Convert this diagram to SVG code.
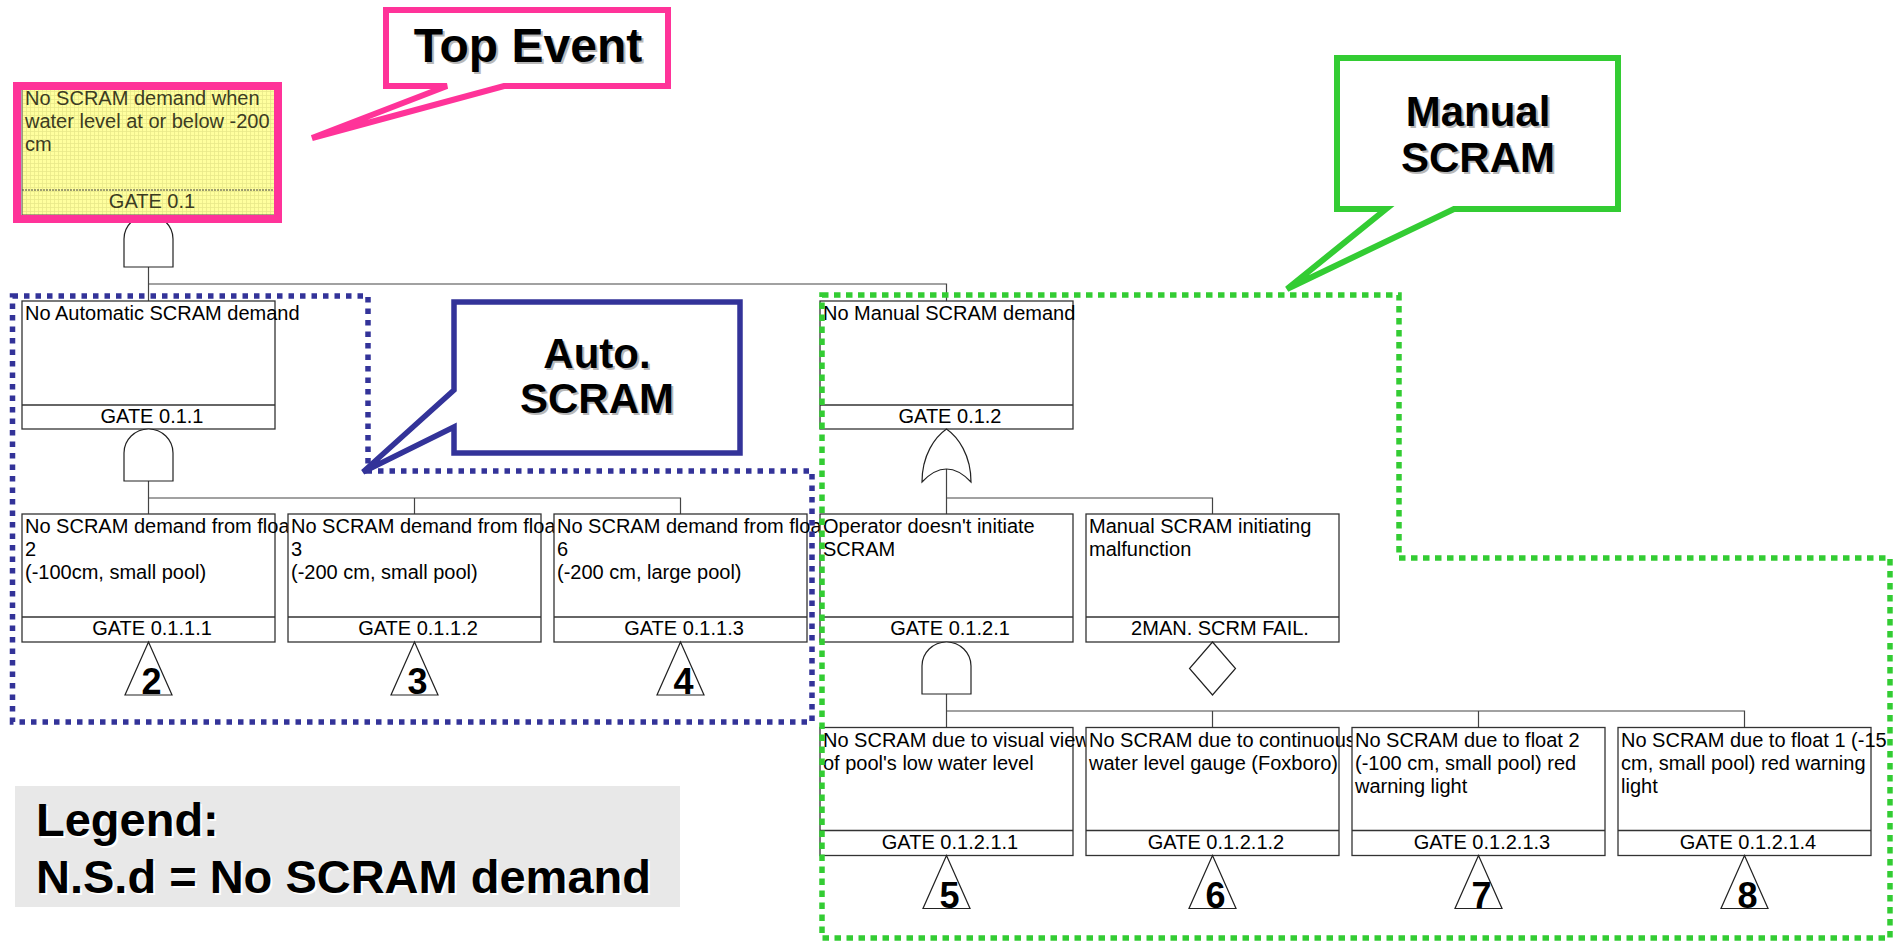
<svg xmlns="http://www.w3.org/2000/svg" width="1903" height="942" viewBox="0 0 1903 942">
  <style>
    .box{fill:#fff;stroke:#333;stroke-width:1.3}
    .div{stroke:#333;stroke-width:1.3}
    .t{font-family:"Liberation Sans",Arial,sans-serif;font-size:20px;fill:#000}
    .g{font-family:"Liberation Sans",Arial,sans-serif;font-size:20px;fill:#000;text-anchor:middle}
    .num{font-family:"Liberation Sans",Arial,sans-serif;font-size:36px;font-weight:bold;fill:#000;text-anchor:middle}
    .sym{fill:#fff;stroke:#222;stroke-width:1.2}
    .wire{fill:none;stroke:#444;stroke-width:1.2}
    .big{font-family:"Liberation Sans",Arial,sans-serif;font-weight:bold;text-anchor:middle}
    .shadow{fill:#b8b8b8}
    .zone{fill:none;stroke-width:5.5}
    .olive{fill:#3c3c22}
  </style>
  <defs>
    <pattern id="yellowGrid" width="4" height="4" patternUnits="userSpaceOnUse">
      <rect width="4" height="4" fill="#ffff9e"/>
      <path d="M0,0.5H4M0.5,0V4" stroke="#e9e98a" stroke-width="0.8"/>
    </pattern>
  </defs>

  <!-- tree connectors -->
  <g id="connectors" class="wire">
    <path d="M148.5,267V284H946.5V301M148.5,284V301"/>
    <path d="M148.5,481V498H680.5V514M414.5,498V514M148.5,498V514"/>
    <path d="M946.5,468V498H1212.5V514M946.5,498V514"/>
    <path d="M946.5,694V711H1744.5V727M1212.5,711V727M1478.5,711V727M946.5,711V727"/>
  </g>

  <!-- top event -->
  <g id="gate-0-1" transform="translate(22,87)">
    <path class="sym" d="M102,180V152A24.5,24 0 0 1 151,152V180Z"/>
    <rect width="253" height="128" fill="url(#yellowGrid)" stroke="#555" stroke-width="1"/>
    <line x1="0" y1="103" x2="253" y2="103" stroke="#444" stroke-width="1.2" stroke-dasharray="2 1"/>
    <text class="t olive" x="3" y="18">No SCRAM demand when</text>
    <text class="t olive" x="3" y="41">water level at or below -200</text>
    <text class="t olive" x="3" y="64">cm</text>
    <text class="g olive" x="130" y="121">GATE 0.1</text>
    <rect x="-5" y="-1" width="261" height="133" fill="none" stroke="#ff3399" stroke-width="8"/>
  </g>

  <!-- level 2 -->
  <g id="gate-0-1-1" transform="translate(22,301)">
    <rect class="box" width="253" height="128"/>
    <line class="div" x1="0" y1="104" x2="253" y2="104"/>
    <text class="t" x="3" y="19">No Automatic SCRAM demand</text>
    <text class="g" x="130" y="122">GATE 0.1.1</text>
    <path class="sym" d="M102,180V152A24.5,24 0 0 1 151,152V180Z"/>
  </g>
  <g id="gate-0-1-2" transform="translate(820,301)">
    <rect class="box" width="253" height="128"/>
    <line class="div" x1="0" y1="104" x2="253" y2="104"/>
    <text class="t" x="3" y="19">No Manual SCRAM demand</text>
    <text class="g" x="130" y="122">GATE 0.1.2</text>
    <path class="sym" d="M102,181C102,154 115,136 126.5,128C138,136 151,154 151,181Q126.5,155 102,181Z"/>
  </g>

  <!-- level 3 (each box covers the overflow of its left neighbour) -->
  <g id="gate-0-1-1-1" transform="translate(22,514)">
    <rect class="box" width="253" height="128"/>
    <line class="div" x1="0" y1="103" x2="253" y2="103"/>
    <text class="t" x="3" y="19">No SCRAM demand from float</text>
    <text class="t" x="3" y="42">2</text>
    <text class="t" x="3" y="65">(-100cm, small pool)</text>
    <text class="g" x="130" y="121">GATE 0.1.1.1</text>
    <path class="sym" d="M126.5,128L150,181H103Z"/>
    <text class="num" x="129.5" y="180">2</text>
  </g>
  <g id="gate-0-1-1-2" transform="translate(288,514)">
    <rect class="box" width="253" height="128"/>
    <line class="div" x1="0" y1="103" x2="253" y2="103"/>
    <text class="t" x="3" y="19">No SCRAM demand from float</text>
    <text class="t" x="3" y="42">3</text>
    <text class="t" x="3" y="65">(-200 cm, small pool)</text>
    <text class="g" x="130" y="121">GATE 0.1.1.2</text>
    <path class="sym" d="M126.5,128L150,181H103Z"/>
    <text class="num" x="129.5" y="180">3</text>
  </g>
  <g id="gate-0-1-1-3" transform="translate(554,514)">
    <rect class="box" width="253" height="128"/>
    <line class="div" x1="0" y1="103" x2="253" y2="103"/>
    <text class="t" x="3" y="19">No SCRAM demand from float</text>
    <text class="t" x="3" y="42">6</text>
    <text class="t" x="3" y="65">(-200 cm, large pool)</text>
    <text class="g" x="130" y="121">GATE 0.1.1.3</text>
    <path class="sym" d="M126.5,128L150,181H103Z"/>
    <text class="num" x="129.5" y="180">4</text>
  </g>
  <g id="gate-0-1-2-1" transform="translate(820,514)">
    <rect class="box" width="253" height="128"/>
    <line class="div" x1="0" y1="103" x2="253" y2="103"/>
    <text class="t" x="3" y="19">Operator doesn't initiate</text>
    <text class="t" x="3" y="42">SCRAM</text>
    <text class="g" x="130" y="121">GATE 0.1.2.1</text>
    <path class="sym" d="M102,180V152A24.5,24 0 0 1 151,152V180Z"/>
  </g>
  <g id="man-scrm-fail" transform="translate(1086,514)">
    <rect class="box" width="253" height="128"/>
    <line class="div" x1="0" y1="103" x2="253" y2="103"/>
    <text class="t" x="3" y="19">Manual SCRAM initiating</text>
    <text class="t" x="3" y="42">malfunction</text>
    <text class="g" x="134" y="121">2MAN. SCRM FAIL.</text>
    <path class="sym" d="M126.5,128L149.5,154.5L126.5,181L103.5,154.5Z"/>
  </g>

  <!-- level 4 -->
  <g id="gate-0-1-2-1-1" transform="translate(820,727.5)">
    <rect class="box" width="253" height="128"/>
    <line class="div" x1="0" y1="103" x2="253" y2="103"/>
    <text class="t" x="3" y="19">No SCRAM due to visual view</text>
    <text class="t" x="3" y="42">of pool's low water level</text>
    <text class="g" x="130" y="121">GATE 0.1.2.1.1</text>
    <path class="sym" d="M126.5,128L150,181H103Z"/>
    <text class="num" x="129.5" y="180">5</text>
  </g>
  <g id="gate-0-1-2-1-2" transform="translate(1086,727.5)">
    <rect class="box" width="253" height="128"/>
    <line class="div" x1="0" y1="103" x2="253" y2="103"/>
    <text class="t" x="3" y="19">No SCRAM due to continuous</text>
    <text class="t" x="3" y="42">water level gauge (Foxboro)</text>
    <text class="g" x="130" y="121">GATE 0.1.2.1.2</text>
    <path class="sym" d="M126.5,128L150,181H103Z"/>
    <text class="num" x="129.5" y="180">6</text>
  </g>
  <g id="gate-0-1-2-1-3" transform="translate(1352,727.5)">
    <rect class="box" width="253" height="128"/>
    <line class="div" x1="0" y1="103" x2="253" y2="103"/>
    <text class="t" x="3" y="19">No SCRAM due to float 2</text>
    <text class="t" x="3" y="42">(-100 cm, small pool) red</text>
    <text class="t" x="3" y="65">warning light</text>
    <text class="g" x="130" y="121">GATE 0.1.2.1.3</text>
    <path class="sym" d="M126.5,128L150,181H103Z"/>
    <text class="num" x="129.5" y="180">7</text>
  </g>
  <g id="gate-0-1-2-1-4" transform="translate(1618,727.5)">
    <rect class="box" width="253" height="128"/>
    <line class="div" x1="0" y1="103" x2="253" y2="103"/>
    <text class="t" x="3" y="19">No SCRAM due to float 1 (-15</text>
    <text class="t" x="3" y="42">cm, small pool) red warning</text>
    <text class="t" x="3" y="65">light</text>
    <text class="g" x="130" y="121">GATE 0.1.2.1.4</text>
    <path class="sym" d="M126.5,128L150,181H103Z"/>
    <text class="num" x="129.5" y="180">8</text>
  </g>

  <!-- dotted grouping outlines -->
  <g id="auto-zone">
    <path class="zone" d="M12.5,296H368V471H812V722H12.5Z" stroke="#333399" stroke-dasharray="5.5 6"/>
  </g>
  <g id="manual-zone">
    <path class="zone" d="M822,295H1399V558H1890V938H822Z" stroke="#33cc33" stroke-dasharray="6.5 5.5"/>
  </g>

  <!-- callouts -->
  <g id="callout-top-event">
    <path d="M386,10H668V86H504L312,138L447,86H386Z" fill="#fff" stroke="#ff3399" stroke-width="6"/>
    <text class="big shadow" x="530" y="64" font-size="48">Top Event</text>
    <text class="big" x="528" y="62" font-size="48">Top Event</text>
  </g>
  <g id="callout-auto">
    <path d="M454,302H740V453H454V427L363,472L454,390Z" fill="#fff" stroke="#333399" stroke-width="5.5"/>
    <text class="big shadow" x="599" y="370" font-size="42">Auto.</text>
    <text class="big shadow" x="599" y="415" font-size="42">SCRAM</text>
    <text class="big" x="597" y="368" font-size="42">Auto.</text>
    <text class="big" x="597" y="413" font-size="42">SCRAM</text>
  </g>
  <g id="callout-manual">
    <path d="M1337,58H1618V209H1454L1287,289L1386,209H1337Z" fill="#fff" stroke="#33cc33" stroke-width="6"/>
    <text class="big shadow" x="1480" y="128" font-size="42">Manual</text>
    <text class="big shadow" x="1480" y="174" font-size="42">SCRAM</text>
    <text class="big" x="1478" y="126" font-size="42">Manual</text>
    <text class="big" x="1478" y="172" font-size="42">SCRAM</text>
  </g>

  <!-- legend -->
  <g id="legend" font-family="Liberation Sans, Arial, sans-serif" font-weight="bold" font-size="47">
    <rect x="15" y="786" width="665" height="121" fill="#e8e8e8"/>
    <text x="38" y="838" fill="#fff">Legend:</text>
    <text x="38" y="895" fill="#fff">N.S.d = No SCRAM demand</text>
    <text x="36" y="836" fill="#000">Legend:</text>
    <text x="36" y="893" fill="#000">N.S.d = No SCRAM demand</text>
  </g>
</svg>
